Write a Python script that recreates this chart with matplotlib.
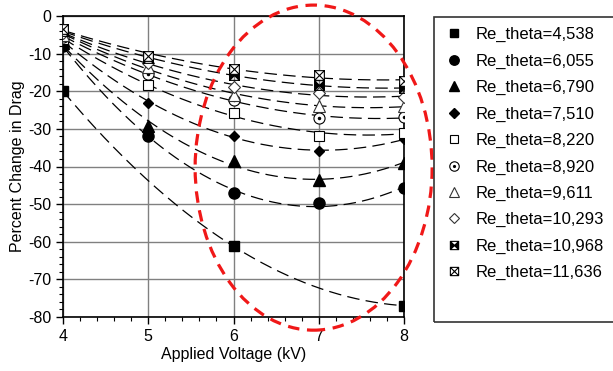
import numpy as np
import matplotlib
matplotlib.use("Agg")
import matplotlib.pyplot as plt
from matplotlib.path import Path
from matplotlib.patches import Ellipse, Rectangle
from matplotlib.ticker import MultipleLocator

plt.rcParams["font.family"] = ["Liberation Sans", "DejaVu Sans"]
plt.rcParams["axes.unicode_minus"] = False

# --- data (kV, % change in drag) ---
volts = [4, 5, 6, 7, 8]
volts_4538 = [4, 6, 8]
drag_4538 = [-20, -61.2, -77]
drag_6055 = [-8, -32, -47, -49.6, -45.8]
drag_6790 = [-7.3, -29.3, -38.5, -43.6, -39]
drag_7510 = [-6.6, -23, -31.9, -35.8, -32.8]
drag_8220 = [-6, -18.4, -25.9, -31.8, -31]
drag_8920 = [-5.5, -15.4, -22.2, -27.2, -26.8]
drag_9611 = [-5, -13.5, -21, -23.9, -24]
drag_10293 = [-4.5, -12.5, -18.8, -20.5, -21.5]
drag_10968 = [-4, -11.2, -15.7, -18.4, -19.2]
drag_11636 = [-3.5, -10.5, -14.2, -15.7, -17.3]
labels = ["Re_theta=4,538", "Re_theta=6,055", "Re_theta=6,790", "Re_theta=7,510",
          "Re_theta=8,220", "Re_theta=8,920", "Re_theta=9,611", "Re_theta=10,293",
          "Re_theta=10,968", "Re_theta=11,636"]

# custom markers: boxed X and filled bow-tie
M, L, C = Path.MOVETO, Path.LINETO, Path.CLOSEPOLY
box_x = Path([(-1, -1), (1, -1), (1, 1), (-1, 1), (-1, -1), (-1, -1), (1, 1), (-1, 1), (1, -1)],
             [M, L, L, L, C, M, L, M, L])
bowtie = Path([(-1, -1), (0, 0), (-1, 1), (-1, -1), (1, -1), (0, 0), (1, 1), (1, -1)],
              [M, L, L, C, M, L, L, C])

fig = plt.figure(figsize=(6.13, 3.71), dpi=100)
ax = fig.add_axes([63 / 613, 1 - 317 / 371, (404 - 63) / 613, (317 - 16) / 371])

xs = np.linspace(4, 8, 200)
series = [
    (volts_4538, drag_4538, [dict(marker="s", ms=6.5, mfc="k", mec="k")]),
    (volts, drag_6055, [dict(marker="o", ms=8, mfc="k", mec="k")]),
    (volts, drag_6790, [dict(marker="^", ms=8, mfc="k", mec="k")]),
    (volts, drag_7510, [dict(marker="D", ms=5.5, mfc="k", mec="k")]),
    (volts, drag_8220, [dict(marker="s", ms=7, mfc="white", mec="k", mew=0.8)]),
    (volts, drag_8920, [dict(marker="o", ms=8, mfc="white", mec="k", mew=0.8),
                        dict(marker="o", ms=1.5, mfc="k", mec="k")]),
    (volts, drag_9611, [dict(marker="^", ms=8, mfc="white", mec="#333333", mew=0.8)]),
    (volts, drag_10293, [dict(marker="D", ms=6, mfc="white", mec="#333333", mew=0.8)]),
    (volts, drag_10968, [dict(marker=box_x, ms=7, mfc="none", mec="k", mew=0.8),
                         dict(marker=bowtie, ms=7, mfc="k", mec="k", mew=0.3)]),
    (volts, drag_11636, [dict(marker=box_x, ms=7, mfc="white", mec="k", mew=0.8)]),
]

handles = []
for x, y, styles in series:
    coef = np.polyfit(x, y, 2)  # quadratic trendline
    ax.plot(xs, np.polyval(coef, xs), color="k", lw=0.9, dashes=(10, 5), zorder=2)
    hs = []
    for st in styles:
        h, = ax.plot(x, y, ls="none", zorder=3, **st)
        hs.append(h)
    handles.append(tuple(hs) if len(hs) > 1 else hs[0])

# highlighted region
ax.add_patch(Ellipse((6.94, -40.3), 2.78, 86.4, fill=False, ec="#f01818", lw=2.3,
                     ls=(0, (3.6, 2.4)), clip_on=False, zorder=4))

ax.set_xlim(4, 8)
ax.set_ylim(-80, 0)
ax.xaxis.set_major_locator(MultipleLocator(1))
ax.xaxis.set_minor_locator(MultipleLocator(0.2))
ax.yaxis.set_major_locator(MultipleLocator(10))
ax.yaxis.set_minor_locator(MultipleLocator(2))
ax.tick_params(which="major", direction="out", length=5, width=1, labelsize=11.5, colors="k")
ax.tick_params(which="minor", direction="out", length=3, width=0.8)
ax.grid(which="major", color="#808080", lw=1)
for s in ax.spines.values():
    s.set_color("k")
    s.set_linewidth(1.2)
ax.set_xlabel("Applied Voltage (kV)", fontsize=11.5, labelpad=2)
ax.set_ylabel("Percent Change in Drag", fontsize=11.5, labelpad=2)

# legend box
fig.patches.append(Rectangle((434 / 613, 1 - 322 / 371), 0.4, (322 - 17) / 371,
                             transform=fig.transFigure, fill=False, ec="#333333", lw=1.2))
fig.legend(handles, labels, loc="upper left", bbox_to_anchor=(446 / 613, 1 - 27 / 371),
           frameon=False, fontsize=12, borderpad=0, borderaxespad=0, handlelength=1.0,
           handletextpad=0.75, labelspacing=0.68, markerscale=0.85)

fig.savefig("out.png", dpi=100)
